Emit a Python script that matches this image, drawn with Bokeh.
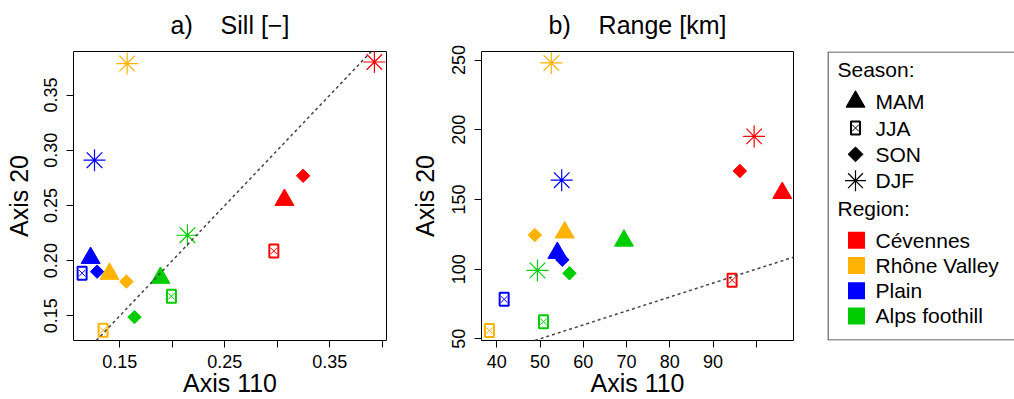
import math
from bokeh.plotting import figure
from bokeh.layouts import row, column
from bokeh.models import Range1d, FixedTicker, Slope, ColumnDataSource
from bokeh.core.properties import value
from bokeh.embed import file_html
from bokeh.resources import INLINE

# ---------------- data ----------------
regions = ["Cévennes", "Rhône Valley", "Plain", "Alps foothill"]
region_colors = ["#FF0000", "#FFB300", "#0000FF", "#00CD00"]
seasons = ["MAM", "JJA", "SON", "DJF"]
panel_titles = ["a)\u00a0\u00a0\u00a0\u00a0Sill [\u2212]", "b)\u00a0\u00a0\u00a0\u00a0Range [km]"]

# a) Sill [-]  (values per region, in the order of `regions`)
sill_x_MAM = [0.3068, 0.1402, 0.1222, 0.1887]
sill_y_MAM = [0.2550, 0.1880, 0.2024, 0.1844]
sill_x_JJA = [0.2967, 0.1341, 0.1141, 0.1992]
sill_y_JJA = [0.2087, 0.1368, 0.1886, 0.1677]
sill_x_SON = [0.3246, 0.1563, 0.1284, 0.1640]
sill_y_SON = [0.2769, 0.1810, 0.1900, 0.1488]
sill_x_DJF = [0.3925, 0.1570, 0.1259, 0.2144]
sill_y_DJF = [0.3800, 0.3786, 0.2910, 0.2230]

# b) Range [km]
range_x_MAM = [106.0, 55.7, 54.0, 69.4]
range_y_MAM = [154.6, 126.3, 111.6, 120.4]
range_x_JJA = [94.4, 38.3, 41.7, 50.8]
range_y_JJA = [92.0, 55.9, 78.3, 62.3]
range_x_SON = [96.2, 48.8, 55.15, 56.8]
range_y_SON = [170.4, 124.4, 106.7, 97.0]
range_x_DJF = [99.5, 52.6, 55.0, 49.4]
range_y_DJF = [195.2, 247.9, 163.8, 99.1]

# ticks
sill_xticks = [0.15, 0.20, 0.25, 0.30, 0.35, 0.40]
sill_xtick_labels = ["0.15", "", "0.25", "", "0.35", ""]
sill_yticks = [0.15, 0.20, 0.25, 0.30, 0.35]
sill_ytick_labels = ["0.15", "0.20", "0.25", "0.30", "0.35"]
range_xticks = [40, 50, 60, 70, 80, 90, 100]
range_xtick_labels = ["40", "50", "60", "70", "80", "90", ""]
range_yticks = [50, 100, 150, 200, 250]
range_ytick_labels = ["50", "100", "150", "200", "250"]

FONT = "Liberation Sans"
TITLE_H = 40
H = 399 - TITLE_H
TOP = 51 - TITLE_H
BOTTOM = 56
W_A, W_B, W_L = 406, 401, 207
LEFT_A, RIGHT_A, LEFT_B, RIGHT_B = 73, 20, 75, 14


def style_axes(p, xticks, xlabels, yticks, ylabels, ylab_standoff):
    p.xgrid.visible = False
    p.ygrid.visible = False
    p.outline_line_color = "black"
    p.outline_line_width = 1
    p.xaxis.ticker = FixedTicker(ticks=xticks, minor_ticks=[])
    p.yaxis.ticker = FixedTicker(ticks=yticks, minor_ticks=[])
    p.xaxis.major_label_overrides = {t: l for t, l in zip(xticks, xlabels)}
    p.yaxis.major_label_overrides = {t: l for t, l in zip(yticks, ylabels)}
    for ax in (p.xaxis[0], p.yaxis[0]):
        ax.axis_line_color = None
        ax.major_tick_in = 0
        ax.major_tick_out = 7
        ax.major_tick_line_color = "black"
        ax.minor_tick_line_color = None
        ax.major_label_text_font = FONT
        ax.major_label_text_font_size = "18px"
        ax.major_label_text_color = "black"
        ax.axis_label_text_font = FONT
        ax.axis_label_text_font_size = "25px"
        ax.axis_label_text_font_style = "normal"
        ax.axis_label_text_color = "black"
    p.xaxis.axis_label = "Axis 110"
    p.yaxis.axis_label = "Axis 20"
    p.xaxis.major_label_standoff = 7
    p.xaxis.axis_label_standoff = -2
    p.yaxis.major_label_standoff = 9
    p.yaxis.axis_label_standoff = ylab_standoff
    p.yaxis.major_label_orientation = "vertical"


def add_points(p, xs, ys):
    (xm, ym), (xj, yj), (xs_, ys_), (xd, yd) = list(zip(xs, ys))
    # JJA: square with cross
    sj = ColumnDataSource(dict(x=xj, y=yj, c=region_colors))
    p.rect("x", "y", width=9, height=13, width_units="screen", height_units="screen",
           fill_color=None, line_color="c", line_width=2, source=sj)
    p.scatter("x", "y", marker="x", size=9, line_color="c", line_width=1, source=sj)
    # SON: diamond
    ss = ColumnDataSource(dict(x=xs_, y=ys_, c=region_colors))
    p.scatter("x", "y", marker="square", angle=math.pi / 4, size=9.5,
              fill_color="c", line_color="c", source=ss)
    # MAM: triangle
    sm = ColumnDataSource(dict(x=xm, y=ym, c=region_colors))
    p.scatter("x", "y", marker="triangle", size=19, fill_color="c", line_color="c", source=sm)
    # DJF: asterisk
    sd = ColumnDataSource(dict(x=xd, y=yd, c=region_colors))
    p.scatter("x", "y", marker="asterisk", size=22, line_color="c", line_width=1.2, source=sd)


def make_panel(xs, ys, xr, yr, xt, xl, yt, yl, left, right, width, ylab_standoff):
    p = figure(width=width, height=H, x_range=Range1d(*xr), y_range=Range1d(*yr),
               output_backend="svg", toolbar_location=None,
               min_border_left=left, min_border_right=right,
               min_border_top=TOP, min_border_bottom=BOTTOM)
    style_axes(p, xt, xl, yt, yl, ylab_standoff)
    p.add_layout(Slope(gradient=1, y_intercept=0, line_color="#444444",
                       line_dash="3 3", line_width=1.5))
    add_points(p, xs, ys)
    return p


pa = make_panel([sill_x_MAM, sill_x_JJA, sill_x_SON, sill_x_DJF],
                [sill_y_MAM, sill_y_JJA, sill_y_SON, sill_y_DJF],
                (0.1059, 0.404), (0.1276, 0.3895),
                sill_xticks, sill_xtick_labels, sill_yticks, sill_ytick_labels,
                LEFT_A, RIGHT_A, W_A, 9)
pb = make_panel([range_x_MAM, range_x_JJA, range_x_SON, range_x_DJF],
                [range_y_MAM, range_y_JJA, range_y_SON, range_y_DJF],
                (36.46, 108.6), (48.8, 256.1),
                range_xticks, range_xtick_labels, range_yticks, range_ytick_labels,
                LEFT_B, RIGHT_B, W_B, 11)

# ---------------- title strip (pixel coordinates) ----------------
TW = W_A + W_B + W_L
pt = figure(width=TW, height=TITLE_H, x_range=Range1d(0, TW), y_range=Range1d(0, TITLE_H),
            output_backend="svg", toolbar_location=None, x_axis_type=None, y_axis_type=None,
            min_border=0)
pt.xgrid.visible = False
pt.ygrid.visible = False
pt.outline_line_color = None
frame_a_w = W_A - LEFT_A - RIGHT_A
frame_b_w = W_B - LEFT_B - RIGHT_B
title_x = [LEFT_A + frame_a_w / 2, W_A + LEFT_B + frame_b_w / 2]
pt.text(x=title_x, y=[TITLE_H - 24] * 2, text=panel_titles, text_font=value(FONT),
        text_font_size="25px", text_align="center", text_baseline="middle", text_color="black")

# ---------------- legend panel ----------------
LW, LH = W_L - 20, 292
pl = figure(width=W_L, height=H, x_range=Range1d(0, LW), y_range=Range1d(0, LH),
            output_backend="svg", toolbar_location=None, x_axis_type=None, y_axis_type=None,
            min_border_left=20, min_border_right=0, min_border_top=TOP, min_border_bottom=BOTTOM)
pl.xgrid.visible = False
pl.ygrid.visible = False
pl.outline_line_color = None
pl.line(x=[LW, 0.5, 0.5, LW], y=[LH - 0.5, LH - 0.5, 0.5, 0.5], line_color="#333333", line_width=1.2)

txt = dict(text_font=value(FONT), text_font_size="21px", text_baseline="middle",
           text_align="left", text_color="black")
pl.text(x=[10], y=[273.5], text=["Season:"], **txt)
pl.text(x=[10], y=[133.5], text=["Region:"], **txt)

season_y = [241.3 - i * 26.6 for i in range(len(seasons))]
pl.text(x=[48] * len(seasons), y=season_y, text=seasons, **txt)
pl.scatter([28], [season_y[0]], marker="triangle", size=19, fill_color="black", line_color="black")
pl.rect([28], [season_y[1]], width=9, height=13, width_units="screen", height_units="screen",
        fill_color=None, line_color="black", line_width=2)
pl.scatter([28], [season_y[1]], marker="x", size=9, line_color="black", line_width=1)
pl.scatter([28], [season_y[2]], marker="square", angle=math.pi / 4, size=10.5,
           fill_color="black", line_color="black")
pl.scatter([28], [season_y[3]], marker="asterisk", size=21, line_color="black", line_width=1.2)

region_y = [101.3 - i * 25.5 for i in range(len(regions))]
pl.text(x=[48] * len(regions), y=region_y, text=regions, **txt)
pl.rect(x=[29] * len(regions), y=region_y, width=17, height=17, width_units="screen",
        height_units="screen", fill_color=region_colors, line_color=None)

layout = column(pt, row(pa, pb, pl))
open("out.html", "w").write(file_html(layout, INLINE))
